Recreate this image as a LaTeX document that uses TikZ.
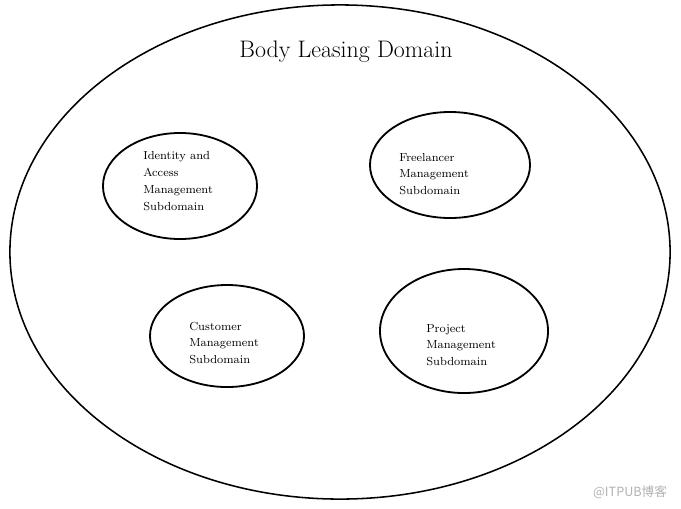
\documentclass[tikz,border=0pt]{standalone}
\usepackage{fontspec}
\newfontfamily\cjkfont{Noto Sans CJK SC}
\usetikzlibrary{shapes.geometric}

\begin{document}
\begin{tikzpicture}[x=0.025cm,y=-0.025cm,
		subdomain/.style={ellipse,draw,line width=1.3pt,inner sep=0pt},
		label/.style={anchor=west,align=left,inner sep=0pt,font=\fontsize{8.3}{12}\selectfont}]
	\useasboundingbox (0,0) rectangle (681,508);
	% domain
	\node[ellipse,draw,line width=1.1pt,inner sep=0pt,
		minimum width=16.5cm,minimum height=12.35cm] (domain) at (340,252) {};
	\node[font=\fontsize{17}{20}\selectfont] (title) at (346,52) {Body Leasing Domain};
	% subdomains
	\node[subdomain,minimum width=3.85cm,minimum height=2.65cm] (iam) at (180,186) {};
	\node[subdomain,minimum width=4cm,minimum height=2.65cm] (free) at (450,165) {};
	\node[subdomain,minimum width=3.85cm,minimum height=2.55cm] (cust) at (227,336) {};
	\node[subdomain,minimum width=4.2cm,minimum height=3.1cm] (proj) at (464,331) {};
	\node[label] (iamtext) at (143,181) {Identity and\\Access\\Management\\Subdomain};
	\node[label] (freetext) at (399,174) {Freelancer\\Management\\Subdomain};
	\node[label] (custtext) at (189,343) {Customer\\Management\\Subdomain};
	\node[label] (projtext) at (426,345) {Project\\Management\\Subdomain};
	% watermark
	\node[text=black!30,font=\cjkfont\fontsize{9}{11}\selectfont] (mark) at (630,492) {@ITPUB博客};
\end{tikzpicture}
\end{document}
